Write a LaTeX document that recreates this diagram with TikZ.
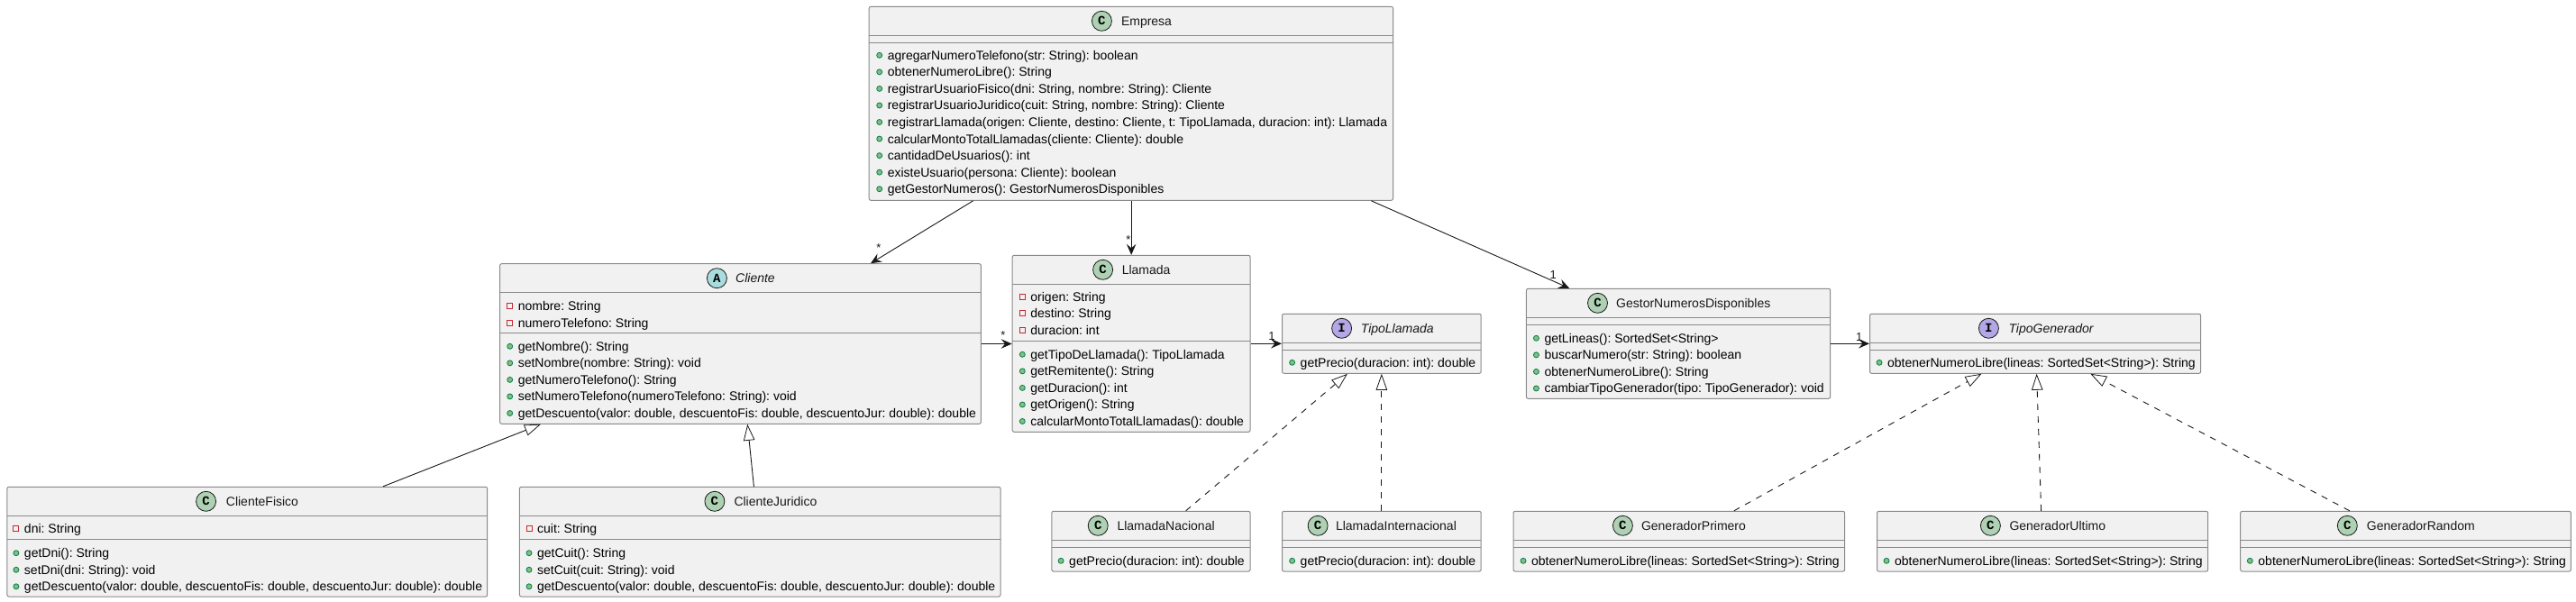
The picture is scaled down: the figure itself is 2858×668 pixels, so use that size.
\documentclass[tikz,border=0pt]{standalone}
\usepackage{fontspec}
\setmainfont{Liberation Sans}
\setmonofont{Liberation Mono}
\usetikzlibrary{arrows.meta}
\frenchspacing
\definecolor{inkc}{HTML}{181818}
\definecolor{edgec}{HTML}{8A8A8A}
\definecolor{boxc}{HTML}{F1F1F1}
\definecolor{iconC}{HTML}{ADD1B2}
\definecolor{iconA}{HTML}{A9DCDF}
\definecolor{iconI}{HTML}{B4A7E5}
\definecolor{privc}{HTML}{C82930}
\definecolor{pubc}{HTML}{038048}
\definecolor{pubf}{HTML}{84BE84}
\tikzset{
  classbox/.style={draw=edgec, fill=boxc, line width=1pt, rounded corners=2pt, inner sep=0pt},
  sepline/.style={edgec, line width=1pt},
  titleC/.style={anchor=base west, inner sep=0pt, inkc},
  titleA/.style={titleC, font=\fontsize{14}{16}\selectfont\itshape},
  titleI/.style={titleA},
  classicon/.style={circle, draw=inkc, line width=0.8pt, minimum size=22pt, inner sep=0pt, font=\fontsize{14}{16}\selectfont\ttfamily\bfseries, text=black},
  privmark/.style={rectangle, draw=privc, line width=0.9pt, minimum size=6pt, inner sep=0pt},
  pubmark/.style={circle, draw=pubc, fill=pubf, line width=0.8pt, minimum size=6pt, inner sep=0pt},
  membertext/.style={anchor=base west, inner sep=0pt, text=black},
  assoc/.style={-{Stealth[length=12pt, width=10.5pt, inset=4.5pt]}, inkc, line width=0.9pt},
  extends/.style={-{Triangle[open, length=18pt, width=12.5pt, line width=0.8pt]}, inkc, line width=0.9pt},
  realizes/.style={extends, dash pattern=on 7pt off 7pt},
  cardlabel/.style={inner sep=0pt, inkc, font=\fontsize{13}{14}\selectfont},
}
% one compartment of members, rows 18.55 apart
\newcommand{\members}[5]{%
  \foreach \txt [count=\k] in {#5}{
    \pgfmathsetmacro{\yy}{#3+(\k-1)*18.55}
    \node[#4mark] (#1-#4-mark-\k) at (#2,\yy) {};
    \node[membertext] (#1-#4-\k) at ({#2+8.9},{\yy+5}) {\txt};
  }%
}

\begin{document}
\begin{tikzpicture}[x=1pt, y=-1pt, font=\fontsize{14}{16}\selectfont]
  \useasboundingbox (0,0) rectangle (2858,668);

  % class frames: name/left/top/right/bottom/sep1/sep2/iconx/kind/titlex/title
  \foreach \nm/\xa/\ya/\xb/\yb/\la/\lb/\ix/\kind/\tx/\ttl in {
    empresa/964.2/7.3/1545.5/222.3/39.5/47.5/1222.4/C/1243.8/Empresa,
    cliente/554.6/292.7/1088.4/470.3/324.7/369.3/795.4/A/816/Cliente,
    llamada/1123.2/283.3/1387.1/479.3/315.3/378.7/1223.6/C/1244.6/Llamada,
    tipoLlamada/1422.5/348.3/1643.2/414.3/380.3/388.3/1488.6/I/1509.6/TipoLlamada,
    gestor/1693.4/320.3/2030.7/442.3/352.3/360.3/1772.5/C/1793/GestorNumerosDisponibles,
    tipoGenerador/2074.5/348.3/2441.7/414.3/380.3/388.3/2206.4/I/2228.3/TipoGenerador,
    clienteFisico/7.9/540.3/540.7/662/572.3/598.3/228.6/C/250.7/ClienteFisico,
    clienteJuridico/576.4/540.3/1110/662/572.3/598.3/792.9/C/814.3/ClienteJuridico,
    nacional/1166.8/567.3/1387.1/634/599.3/607.3/1218.2/C/1239.3/LlamadaNacional,
    internacional/1422.5/567.3/1643.2/634/599.3/607.3/1462.1/C/1481.8/LlamadaInternacional,
    primero/1679/567.3/2046.7/634/599.3/607.3/1800.4/C/1820.8/GeneradorPrimero,
    ultimo/2082.5/567.3/2449.7/634/599.3/607.3/2208.4/C/2229.3/GeneradorUltimo,
    random/2485.7/567.3/2852.3/634/599.3/607.3/2604.3/C/2625.7/GeneradorRandom}{
    \node[classbox, minimum width={(\xb-\xa)*1pt}, minimum height={(\yb-\ya)*1pt}]
      (\nm) at ({(\xa+\xb)/2},{(\ya+\yb)/2}) {};
    \draw[sepline] (\xa,\la) -- (\xb,\la);
    \draw[sepline] (\xa,\lb) -- (\xb,\lb);
    \node[classicon, fill=icon\kind] (\nm-icon) at (\ix,{\ya+16}) {\kind};
    \node[title\kind] (\nm-title) at (\tx,{\ya+21}) {\ttl};
  }

  % members
  \members{empresa}{975.7}{61.3}{pub}{agregarNumeroTelefono(str: String): boolean,
    obtenerNumeroLibre(): String,
    {registrarUsuarioFisico(dni: String, nombre: String): Cliente},
    {registrarUsuarioJuridico(cuit: String, nombre: String): Cliente},
    {registrarLlamada(origen: Cliente, destino: Cliente, t: TipoLlamada, duracion: int): Llamada},
    calcularMontoTotalLlamadas(cliente: Cliente): double,
    cantidadDeUsuarios(): int,
    existeUsuario(persona: Cliente): boolean,
    getGestorNumeros(): GestorNumerosDisponibles}
  \members{cliente}{565.7}{339.7}{priv}{nombre: String, numeroTelefono: String}
  \members{cliente}{565.7}{384.3}{pub}{getNombre(): String,
    setNombre(nombre: String): void,
    getNumeroTelefono(): String,
    setNumeroTelefono(numeroTelefono: String): void,
    {getDescuento(valor: double, descuentoFis: double, descuentoJur: double): double}}
  \members{llamada}{1134.3}{329.3}{priv}{origen: String, destino: String, duracion: int}
  \members{llamada}{1134.3}{393.3}{pub}{getTipoDeLlamada(): TipoLlamada,
    getRemitente(): String,
    getDuracion(): int,
    getOrigen(): String,
    calcularMontoTotalLlamadas(): double}
  \members{tipoLlamada}{1433.6}{402.3}{pub}{getPrecio(duracion: int): double}
  \members{gestor}{1704.4}{375.3}{pub}{getLineas(): SortedSet<String>,
    buscarNumero(str: String): boolean,
    obtenerNumeroLibre(): String,
    cambiarTipoGenerador(tipo: TipoGenerador): void}
  \members{tipoGenerador}{2085}{402.3}{pub}{obtenerNumeroLibre(lineas: SortedSet<String>): String}
  \members{clienteFisico}{17.9}{586.7}{priv}{dni: String}
  \members{clienteFisico}{17.9}{613.7}{pub}{getDni(): String,
    setDni(dni: String): void,
    {getDescuento(valor: double, descuentoFis: double, descuentoJur: double): double}}
  \members{clienteJuridico}{587}{586.7}{priv}{cuit: String}
  \members{clienteJuridico}{587}{613.7}{pub}{getCuit(): String,
    setCuit(cuit: String): void,
    {getDescuento(valor: double, descuentoFis: double, descuentoJur: double): double}}
  \members{nacional}{1177.1}{622.3}{pub}{getPrecio(duracion: int): double}
  \members{internacional}{1433.6}{622.3}{pub}{getPrecio(duracion: int): double}
  \members{primero}{1690}{622.3}{pub}{obtenerNumeroLibre(lineas: SortedSet<String>): String}
  \members{ultimo}{2093}{622.3}{pub}{obtenerNumeroLibre(lineas: SortedSet<String>): String}
  \members{random}{2496.3}{622.3}{pub}{obtenerNumeroLibre(lineas: SortedSet<String>): String}

  % associations
  \draw[assoc] ([xshift=-175.2pt]empresa.south) -- ([xshift=144.5pt]cliente.north);
  \draw[assoc] (empresa.south -| llamada.north) -- (llamada.north);
  \draw[assoc] ([xshift=266.5pt]empresa.south) -- ([xshift=-120.9pt]gestor.north);
  \draw[assoc] (cliente.east) -- (cliente.east -| llamada.west);
  \draw[assoc] (llamada.east) -- (tipoLlamada.west);
  \draw[assoc] (gestor.east) -- (tipoGenerador.west);

  % inheritance
  \draw[extends] ([xshift=150.7pt]clienteFisico.north) -- ([xshift=-221.5pt]cliente.south);
  \draw[extends] ([xshift=-6.8pt]clienteJuridico.north) -- ([xshift=7.8pt]cliente.south);
  \draw[realizes] ([xshift=38.7pt]nacional.north) -- ([xshift=-37.9pt]tipoLlamada.south);
  \draw[realizes] (internacional.north) -- (tipoLlamada.south);
  \draw[realizes] ([xshift=61pt]primero.north) -- ([xshift=-59.7pt]tipoGenerador.south);
  \draw[realizes] ([xshift=-1.5pt]ultimo.north) -- ([xshift=1.5pt]tipoGenerador.south);
  \draw[realizes] ([xshift=-62.2pt]random.north) -- ([xshift=61.2pt]tipoGenerador.south);

  % multiplicities
  \node[cardlabel] (cardCliente) at (975,275) {*};
  \node[cardlabel] (cardLlamada) at (1252,266) {*};
  \node[cardlabel] (cardGestor) at (1723.3,305) {1};
  \node[cardlabel] (cardHacia) at (1113,372) {*};
  \node[cardlabel] (cardTipoLl) at (1411,373) {1};
  \node[cardlabel] (cardTipoGen) at (2062.6,374) {1};
\end{tikzpicture}
\end{document}
